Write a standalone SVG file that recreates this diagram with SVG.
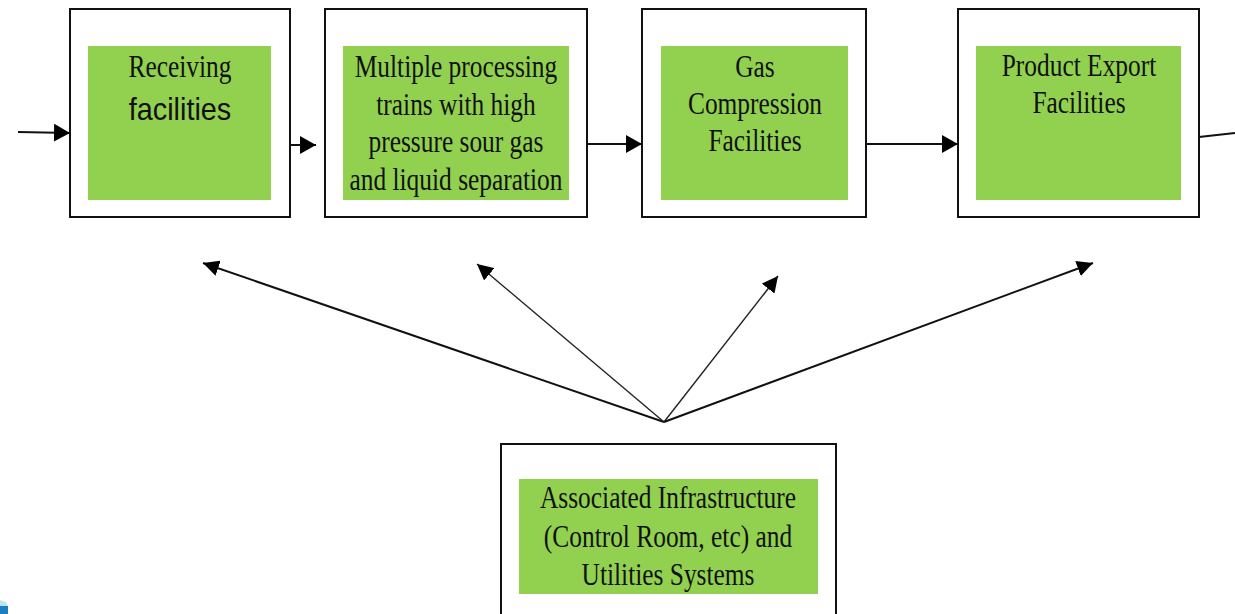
<svg xmlns="http://www.w3.org/2000/svg" width="1235" height="614" viewBox="0 0 1235 614">
<style>
.outer{fill:#fff;stroke:#111;stroke-width:2}
.green{fill:#92D050}
.t{font-family:"Liberation Serif","Times New Roman",serif;font-size:31px;fill:#111;text-anchor:middle}
.s{font-family:"Liberation Sans",Arial,sans-serif;font-size:32px;fill:#111;text-anchor:middle}
.c{stroke:#111;stroke-width:2;fill:none}
.f{stroke:#222;stroke-width:1.4;fill:none}
</style>
<defs>
<marker id="ah" markerUnits="userSpaceOnUse" markerWidth="17" markerHeight="18" refX="16" refY="9" orient="auto">
<path d="M0,0 L16,9 L0,18 z" fill="#000"/>
</marker>
<marker id="fh" markerUnits="userSpaceOnUse" markerWidth="17" markerHeight="16" refX="16" refY="8" orient="auto">
<path d="M0,0 L16,8 L0,16 z" fill="#000"/>
</marker>
</defs>
<rect width="1235" height="614" fill="#fff"/>

<g id="connectors">
<line class="c" x1="18" y1="132" x2="70" y2="133" marker-end="url(#ah)"/>
<line class="c" x1="290" y1="145" x2="316" y2="145" marker-end="url(#ah)"/>
<line class="c" x1="587" y1="144" x2="642" y2="144" marker-end="url(#ah)"/>
<line class="c" x1="866" y1="144" x2="958" y2="144" marker-end="url(#ah)"/>
<line class="c" x1="1199" y1="137" x2="1235" y2="133"/>
<line class="c" x1="664" y1="422" x2="203" y2="263" marker-end="url(#fh)"/>
<line class="f" x1="664" y1="422" x2="477" y2="264" marker-end="url(#fh)"/>
<line class="f" x1="664" y1="422" x2="778" y2="276" marker-end="url(#fh)"/>
<line class="c" x1="664" y1="422" x2="1093" y2="263" marker-end="url(#fh)"/>
</g>

<g id="receiving">
<rect class="outer" x="70" y="9" width="220" height="208"/>
<rect class="green" x="88" y="46" width="183" height="154"/>
<text class="t" transform="translate(180 77) scale(0.82 1)">Receiving</text>
<text class="s" transform="translate(180 120) scale(0.9 1)">facilities</text>
</g>

<g id="processing">
<rect class="outer" x="325" y="9" width="262" height="208"/>
<rect class="green" x="343" y="46" width="226" height="154"/>
<text class="t" transform="translate(456 77) scale(0.82 1)">Multiple processing</text>
<text class="t" transform="translate(456 114.5) scale(0.82 1)">trains with high</text>
<text class="t" transform="translate(456 152) scale(0.82 1)">pressure sour gas</text>
<text class="t" transform="translate(456 190) scale(0.82 1)">and liquid separation</text>
</g>

<g id="compression">
<rect class="outer" x="642" y="9" width="224" height="208"/>
<rect class="green" x="661" y="46" width="187" height="154"/>
<text class="t" transform="translate(755 77) scale(0.82 1)">Gas</text>
<text class="t" transform="translate(755 114) scale(0.82 1)">Compression</text>
<text class="t" transform="translate(755 151) scale(0.82 1)">Facilities</text>
</g>

<g id="export">
<rect class="outer" x="958" y="9" width="241" height="208"/>
<rect class="green" x="976" y="46" width="205" height="154"/>
<text class="t" transform="translate(1079 76) scale(0.82 1)">Product Export</text>
<text class="t" transform="translate(1079 113) scale(0.82 1)">Facilities</text>
</g>

<g id="infrastructure">
<rect class="outer" x="501" y="444" width="335" height="180"/>
<rect class="green" x="519" y="479" width="299" height="115"/>
<text class="t" transform="translate(668 508) scale(0.82 1)">Associated Infrastructure</text>
<text class="t" transform="translate(668 547) scale(0.82 1)">(Control Room, etc) and</text>
<text class="t" transform="translate(668 585) scale(0.82 1)">Utilities Systems</text>
</g>

<path d="M0,600 L6,602 L8,606 L8,614 L0,614 z" fill="#bfe6ee"/>
<path d="M0,606 L8,606 L8,614 L0,614 z" fill="#1a80c0"/>
</svg>
